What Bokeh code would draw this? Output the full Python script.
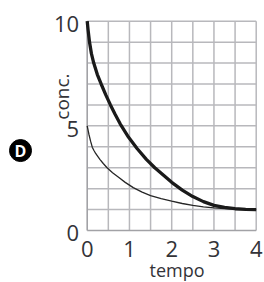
import math
from bokeh.plotting import figure
from bokeh.models import Range1d
from bokeh.core.properties import value
from bokeh.embed import file_html
from bokeh.resources import INLINE

# ---- data ----
thick_t = [0, 0.02, 0.055, 0.1, 0.155, 0.24, 0.33, 0.44, 0.55, 0.66, 0.78, 0.98, 1.18,
           1.4, 1.6, 1.8, 2.0, 2.25, 2.5, 2.75, 3.0, 3.25, 3.5, 3.75, 4.0]
thick_c = [10, 9.6, 9.0, 8.45, 8.0, 7.45, 7.0, 6.48, 6.0, 5.55, 5.1, 4.45, 3.92,
           3.4, 3.0, 2.65, 2.3, 1.93, 1.62, 1.38, 1.2, 1.1, 1.04, 1.01, 1.0]

thin_t = [0, 0.04, 0.08, 0.12, 0.16, 0.2, 0.3, 0.38, 0.47, 0.6, 0.75, 0.9, 1.09,
          1.3, 1.5, 1.75, 2.0, 2.25, 2.5, 2.75, 3.0, 3.25, 3.5, 3.75, 4.0]
thin_c = [5.0, 4.6, 4.27, 3.98, 3.82, 3.68, 3.4, 3.2, 3.0, 2.76, 2.53, 2.3, 2.05,
          1.83, 1.67, 1.52, 1.4, 1.29, 1.2, 1.13, 1.08, 1.045, 1.02, 1.005, 1.0]

x_ticks = [0, 1, 2, 3, 4]
x_tick_labels = ["0", "1", "2", "3", "4"]
y_ticks = [0, 5, 10]
y_tick_labels = ["0", "5", "10"]
x_grid = [0, 0.5, 1, 1.5, 2, 2.5, 3, 3.5, 4]
y_grid = [0, 1, 2, 3, 4, 5, 6, 7, 8, 9, 10]

x_title = "tempo"
y_title = "conc."
badge = "D"

# ---- layout (pixels, page has no margin) ----
W, H = 264, 282
X0, X4 = 86.7, 255.7     # pixel of t=0 and t=4
Y10, Y0 = 20.7, 230.0    # pixel of c=10 and c=0
sx = (X4 - X0) / 4.0
sy = (Y0 - Y10) / 10.0
xmin = -X0 / sx
xmax = 4 + (W - X4) / sx
ymax = 10 + Y10 / sy
ymin = -(H - Y0) / sy

FONT = "Open Sans"
TXT = "#333338"
GRID = "#b8b8bc"
AXIS = "#a2a2a6"

p = figure(width=W, height=H, output_backend="svg", toolbar_location=None,
           x_range=Range1d(xmin, xmax), y_range=Range1d(ymin, ymax), min_border=0)
p.axis.visible = False
p.grid.visible = False
p.outline_line_color = None
p.background_fill_color = "white"
p.border_fill_color = "white"

gy0, gy1 = min(y_grid), max(y_grid)
gx0, gx1 = min(x_grid), max(x_grid)
p.segment(x0=x_grid[1:], y0=[gy0] * (len(x_grid) - 1), x1=x_grid[1:], y1=[gy1] * (len(x_grid) - 1),
          line_color=GRID, line_width=1.5)
p.segment(x0=[gx0] * (len(y_grid) - 1), y0=y_grid[1:], x1=[gx1] * (len(y_grid) - 1), y1=y_grid[1:],
          line_color=GRID, line_width=1.5)
# axis lines
p.segment(x0=[gx0, gx0], y0=[gy0, gy0], x1=[gx0, gx1], y1=[gy1, gy0],
          line_color=AXIS, line_width=1.6)

p.line(thin_t, thin_c, line_color="#262626", line_width=1.3)
p.line(thick_t, thick_c, line_color="#1a1a1a", line_width=3.3)

# tick labels
p.text(x=x_ticks, y=[-18 / sy] * len(x_ticks), text=x_tick_labels,
       text_font=value(FONT), text_font_size=value("22px"), text_color=TXT,
       text_align="center", text_baseline="middle")
p.text(x=[-8 / sx] * len(y_ticks), y=[v - 2.8 / sy for v in y_ticks], text=y_tick_labels,
       text_font=value(FONT), text_font_size=value("22px"), text_color=TXT,
       text_align="right", text_baseline="middle")

# axis titles
p.text(x=[2.125], y=[-39.7 / sy], text=[x_title], text_font=value(FONT),
       text_font_size=value("18px"), text_color=TXT, text_align="center",
       text_baseline="middle")
p.text(x=[-25.7 / sx], y=[6.4], text=[y_title], text_font=value(FONT),
       text_font_size=value("19px"), text_color=TXT, text_align="center",
       text_baseline="middle", angle=math.pi / 2)

# badge
p.scatter(x=[-66.7 / sx], y=[3.82], size=22, marker="circle", fill_color="black",
          line_color="black")
p.text(x=[-66.7 / sx], y=[3.82], text=[badge], text_font=value(FONT),
       text_font_size=value("16px"), text_font_style="bold", text_color="white",
       text_align="center", text_baseline="middle")

open("out.html", "w").write(file_html(p, INLINE))
